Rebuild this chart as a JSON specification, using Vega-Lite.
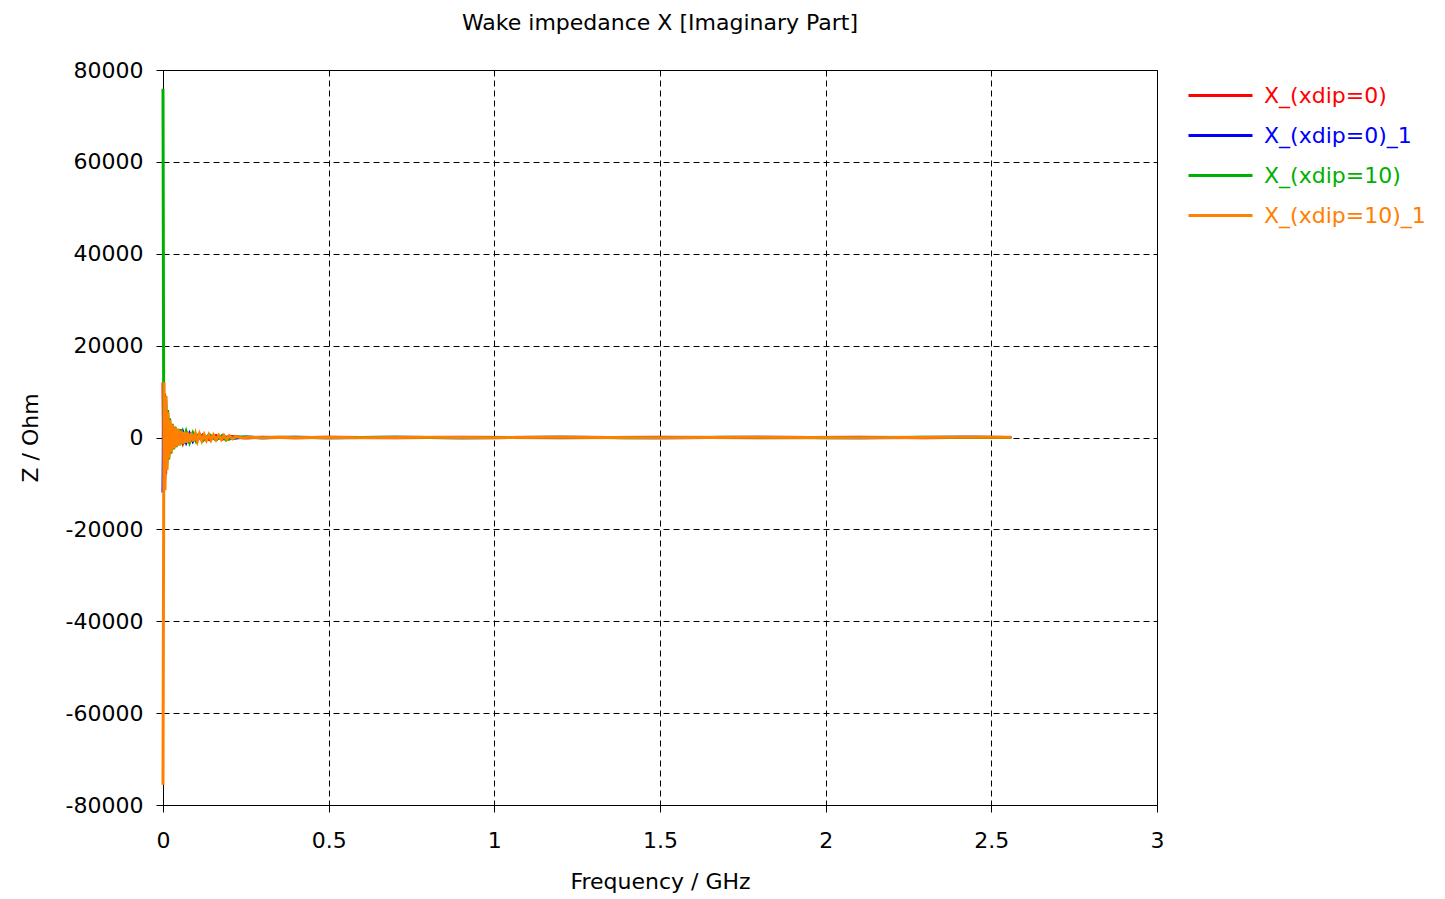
{
  "$schema": "https://vega.github.io/schema/vega-lite/v6.json",
  "width": 994,
  "height": 735,
  "autosize": {"type": "none"},
  "padding": {"left": 163, "top": 70, "right": 288, "bottom": 94},
  "background": "white",
  "title": {"text": "Wake impedance X [Imaginary Part]", "font": "DejaVu Sans", "fontSize": 22, "fontWeight": "normal", "color": "black", "offset": 24, "anchor": "middle"},
  "config": {
    "view": {"stroke": "black", "strokeWidth": 1},
    "font": "DejaVu Sans",
    "axis": {
      "labelFont": "DejaVu Sans", "labelFontSize": 22, "labelColor": "black",
      "titleFont": "DejaVu Sans", "titleFontSize": 22, "titleColor": "black", "titleFontWeight": "normal",
      "domainColor": "black", "domainWidth": 1, "tickColor": "black", "tickSize": 7, "tickWidth": 1,
      "grid": true, "gridColor": "black", "gridDash": [6, 4], "gridWidth": 1, "gridOpacity": 1, "labelFlush": false
    }
  },
  "data": {"values": [
    {"f":0,"z":12000,"s":"X_(xdip=0)"},{"f":0.002,"z":-9000,"s":"X_(xdip=0)"},{"f":0.005,"z":9500,"s":"X_(xdip=0)"},{"f":0.008,"z":-8000,"s":"X_(xdip=0)"},{"f":0.011,"z":6000,"s":"X_(xdip=0)"},{"f":0.014,"z":-4800,"s":"X_(xdip=0)"},{"f":0.017,"z":4000,"s":"X_(xdip=0)"},{"f":0.02,"z":-3300,"s":"X_(xdip=0)"},{"f":0.024,"z":2800,"s":"X_(xdip=0)"},{"f":0.028,"z":-2400,"s":"X_(xdip=0)"},{"f":0.032,"z":2100,"s":"X_(xdip=0)"},{"f":0.036,"z":-1900,"s":"X_(xdip=0)"},{"f":0.04,"z":1750,"s":"X_(xdip=0)"},{"f":0.045,"z":-1550,"s":"X_(xdip=0)"},{"f":0.05,"z":1400,"s":"X_(xdip=0)"},{"f":0.06,"z":-1150,"s":"X_(xdip=0)"},{"f":0.07,"z":1000,"s":"X_(xdip=0)"},{"f":0.08,"z":-850,"s":"X_(xdip=0)"},{"f":0.09,"z":750,"s":"X_(xdip=0)"},{"f":0.1,"z":-650,"s":"X_(xdip=0)"},{"f":0.12,"z":560,"s":"X_(xdip=0)"},{"f":0.14,"z":-480,"s":"X_(xdip=0)"},{"f":0.16,"z":420,"s":"X_(xdip=0)"},{"f":0.18,"z":-360,"s":"X_(xdip=0)"},{"f":0.2,"z":260,"s":"X_(xdip=0)"},{"f":0.25,"z":-100,"s":"X_(xdip=0)"},{"f":0.3,"z":80,"s":"X_(xdip=0)"},{"f":0.4,"z":-50,"s":"X_(xdip=0)"},{"f":0.5,"z":50,"s":"X_(xdip=0)"},{"f":0.7,"z":-50,"s":"X_(xdip=0)"},{"f":0.9,"z":50,"s":"X_(xdip=0)"},{"f":1.2,"z":-50,"s":"X_(xdip=0)"},{"f":1.5,"z":50,"s":"X_(xdip=0)"},{"f":1.8,"z":-50,"s":"X_(xdip=0)"},{"f":2.1,"z":50,"s":"X_(xdip=0)"},{"f":2.3,"z":-50,"s":"X_(xdip=0)"},{"f":2.45,"z":50,"s":"X_(xdip=0)"},{"f":2.56,"z":0,"s":"X_(xdip=0)"},
    {"f":0,"z":-12000,"s":"X_(xdip=0)_1"},{"f":0.002,"z":8000,"s":"X_(xdip=0)_1"},{"f":0.005,"z":-9500,"s":"X_(xdip=0)_1"},{"f":0.008,"z":8000,"s":"X_(xdip=0)_1"},{"f":0.011,"z":-6000,"s":"X_(xdip=0)_1"},{"f":0.014,"z":4800,"s":"X_(xdip=0)_1"},{"f":0.017,"z":-4000,"s":"X_(xdip=0)_1"},{"f":0.02,"z":3300,"s":"X_(xdip=0)_1"},{"f":0.024,"z":-2800,"s":"X_(xdip=0)_1"},{"f":0.028,"z":2400,"s":"X_(xdip=0)_1"},{"f":0.032,"z":-2100,"s":"X_(xdip=0)_1"},{"f":0.036,"z":1900,"s":"X_(xdip=0)_1"},{"f":0.04,"z":-1750,"s":"X_(xdip=0)_1"},{"f":0.045,"z":1550,"s":"X_(xdip=0)_1"},{"f":0.05,"z":-1400,"s":"X_(xdip=0)_1"},{"f":0.06,"z":1150,"s":"X_(xdip=0)_1"},{"f":0.07,"z":-1000,"s":"X_(xdip=0)_1"},{"f":0.08,"z":850,"s":"X_(xdip=0)_1"},{"f":0.09,"z":-750,"s":"X_(xdip=0)_1"},{"f":0.1,"z":650,"s":"X_(xdip=0)_1"},{"f":0.12,"z":-560,"s":"X_(xdip=0)_1"},{"f":0.14,"z":480,"s":"X_(xdip=0)_1"},{"f":0.16,"z":-420,"s":"X_(xdip=0)_1"},{"f":0.18,"z":360,"s":"X_(xdip=0)_1"},{"f":0.2,"z":-260,"s":"X_(xdip=0)_1"},{"f":0.25,"z":100,"s":"X_(xdip=0)_1"},{"f":0.3,"z":-80,"s":"X_(xdip=0)_1"},{"f":0.4,"z":50,"s":"X_(xdip=0)_1"},{"f":0.5,"z":-50,"s":"X_(xdip=0)_1"},{"f":0.7,"z":50,"s":"X_(xdip=0)_1"},{"f":0.9,"z":-50,"s":"X_(xdip=0)_1"},{"f":1.2,"z":50,"s":"X_(xdip=0)_1"},{"f":1.5,"z":-50,"s":"X_(xdip=0)_1"},{"f":1.8,"z":50,"s":"X_(xdip=0)_1"},{"f":2.1,"z":-50,"s":"X_(xdip=0)_1"},{"f":2.4,"z":50,"s":"X_(xdip=0)_1"},{"f":2.56,"z":0,"s":"X_(xdip=0)_1"},
    {"f":0,"z":75900,"s":"X_(xdip=10)"},{"f":0.002,"z":9000,"s":"X_(xdip=10)"},{"f":0.005,"z":-8500,"s":"X_(xdip=10)"},{"f":0.008,"z":9000,"s":"X_(xdip=10)"},{"f":0.011,"z":-7000,"s":"X_(xdip=10)"},{"f":0.014,"z":6000,"s":"X_(xdip=10)"},{"f":0.017,"z":-4800,"s":"X_(xdip=10)"},{"f":0.02,"z":4200,"s":"X_(xdip=10)"},{"f":0.024,"z":-3500,"s":"X_(xdip=10)"},{"f":0.028,"z":3000,"s":"X_(xdip=10)"},{"f":0.032,"z":-2600,"s":"X_(xdip=10)"},{"f":0.036,"z":2400,"s":"X_(xdip=10)"},{"f":0.04,"z":-2100,"s":"X_(xdip=10)"},{"f":0.045,"z":1900,"s":"X_(xdip=10)"},{"f":0.05,"z":-1700,"s":"X_(xdip=10)"},{"f":0.055,"z":1800,"s":"X_(xdip=10)"},{"f":0.06,"z":-1450,"s":"X_(xdip=10)"},{"f":0.07,"z":1250,"s":"X_(xdip=10)"},{"f":0.08,"z":-1050,"s":"X_(xdip=10)"},{"f":0.09,"z":950,"s":"X_(xdip=10)"},{"f":0.1,"z":-800,"s":"X_(xdip=10)"},{"f":0.11,"z":700,"s":"X_(xdip=10)"},{"f":0.12,"z":-700,"s":"X_(xdip=10)"},{"f":0.14,"z":600,"s":"X_(xdip=10)"},{"f":0.16,"z":-520,"s":"X_(xdip=10)"},{"f":0.18,"z":480,"s":"X_(xdip=10)"},{"f":0.19,"z":-560,"s":"X_(xdip=10)"},{"f":0.22,"z":150,"s":"X_(xdip=10)"},{"f":0.3,"z":-60,"s":"X_(xdip=10)"},{"f":0.35,"z":60,"s":"X_(xdip=10)"},{"f":0.5,"z":-50,"s":"X_(xdip=10)"},{"f":0.7,"z":60,"s":"X_(xdip=10)"},{"f":0.9,"z":-50,"s":"X_(xdip=10)"},{"f":1.2,"z":60,"s":"X_(xdip=10)"},{"f":1.4,"z":-50,"s":"X_(xdip=10)"},{"f":1.7,"z":60,"s":"X_(xdip=10)"},{"f":2.0,"z":-50,"s":"X_(xdip=10)"},{"f":2.3,"z":60,"s":"X_(xdip=10)"},{"f":2.56,"z":0,"s":"X_(xdip=10)"},
    {"f":0,"z":-75600,"s":"X_(xdip=10)_1"},{"f":0.003,"z":12000,"s":"X_(xdip=10)_1"},{"f":0.006,"z":-11500,"s":"X_(xdip=10)_1"},{"f":0.009,"z":9000,"s":"X_(xdip=10)_1"},{"f":0.012,"z":-7000,"s":"X_(xdip=10)_1"},{"f":0.015,"z":5500,"s":"X_(xdip=10)_1"},{"f":0.018,"z":-4500,"s":"X_(xdip=10)_1"},{"f":0.021,"z":3800,"s":"X_(xdip=10)_1"},{"f":0.025,"z":-3200,"s":"X_(xdip=10)_1"},{"f":0.029,"z":2800,"s":"X_(xdip=10)_1"},{"f":0.033,"z":-2400,"s":"X_(xdip=10)_1"},{"f":0.037,"z":2200,"s":"X_(xdip=10)_1"},{"f":0.041,"z":-1950,"s":"X_(xdip=10)_1"},{"f":0.045,"z":1800,"s":"X_(xdip=10)_1"},{"f":0.05,"z":-1600,"s":"X_(xdip=10)_1"},{"f":0.055,"z":1450,"s":"X_(xdip=10)_1"},{"f":0.06,"z":-1330,"s":"X_(xdip=10)_1"},{"f":0.065,"z":1230,"s":"X_(xdip=10)_1"},{"f":0.07,"z":-1140,"s":"X_(xdip=10)_1"},{"f":0.075,"z":1070,"s":"X_(xdip=10)_1"},{"f":0.08,"z":-1000,"s":"X_(xdip=10)_1"},{"f":0.086,"z":930,"s":"X_(xdip=10)_1"},{"f":0.092,"z":-870,"s":"X_(xdip=10)_1"},{"f":0.098,"z":820,"s":"X_(xdip=10)_1"},{"f":0.104,"z":-770,"s":"X_(xdip=10)_1"},{"f":0.11,"z":730,"s":"X_(xdip=10)_1"},{"f":0.117,"z":-680,"s":"X_(xdip=10)_1"},{"f":0.124,"z":650,"s":"X_(xdip=10)_1"},{"f":0.131,"z":-610,"s":"X_(xdip=10)_1"},{"f":0.138,"z":580,"s":"X_(xdip=10)_1"},{"f":0.145,"z":-550,"s":"X_(xdip=10)_1"},{"f":0.152,"z":530,"s":"X_(xdip=10)_1"},{"f":0.16,"z":-500,"s":"X_(xdip=10)_1"},{"f":0.168,"z":480,"s":"X_(xdip=10)_1"},{"f":0.176,"z":-450,"s":"X_(xdip=10)_1"},{"f":0.184,"z":430,"s":"X_(xdip=10)_1"},{"f":0.192,"z":-410,"s":"X_(xdip=10)_1"},{"f":0.2,"z":390,"s":"X_(xdip=10)_1"},{"f":0.21,"z":-300,"s":"X_(xdip=10)_1"},{"f":0.22,"z":200,"s":"X_(xdip=10)_1"},{"f":0.24,"z":-120,"s":"X_(xdip=10)_1"},{"f":0.26,"z":80,"s":"X_(xdip=10)_1"},{"f":0.3,"z":-50,"s":"X_(xdip=10)_1"},{"f":0.35,"z":50,"s":"X_(xdip=10)_1"},{"f":0.4,"z":-40,"s":"X_(xdip=10)_1"},{"f":0.5,"z":40,"s":"X_(xdip=10)_1"},{"f":0.6,"z":-40,"s":"X_(xdip=10)_1"},{"f":0.8,"z":40,"s":"X_(xdip=10)_1"},{"f":1.0,"z":-40,"s":"X_(xdip=10)_1"},{"f":1.2,"z":40,"s":"X_(xdip=10)_1"},{"f":1.5,"z":-40,"s":"X_(xdip=10)_1"},{"f":1.8,"z":40,"s":"X_(xdip=10)_1"},{"f":2.1,"z":-40,"s":"X_(xdip=10)_1"},{"f":2.4,"z":40,"s":"X_(xdip=10)_1"},{"f":2.56,"z":30,"s":"X_(xdip=10)_1"}
  ]},
  "mark": {"type": "line", "clip": false, "strokeCap": "butt", "strokeJoin": "miter"},
  "encoding": {
    "x": {"field": "f", "type": "quantitative", "scale": {"domain": [0, 3], "nice": false, "zero": false},
      "axis": {"title": "Frequency / GHz", "values": [0, 0.5, 1, 1.5, 2, 2.5, 3], "labelExpr": "toString(datum.value)", "labelPadding": 18, "titleY": 76, "titleBaseline": "middle"}},
    "y": {"field": "z", "type": "quantitative", "scale": {"domain": [-80000, 80000], "nice": false, "zero": false},
      "axis": {"title": "Z / Ohm", "values": [-80000, -60000, -40000, -20000, 0, 20000, 40000, 60000, 80000], "labelExpr": "toString(datum.value)", "labelPadding": 13, "titleX": -133, "titleY": 367.5, "titleAngle": -90, "titleAlign": "center", "titleBaseline": "middle"}},
    "color": {"field": "s", "type": "nominal",
      "scale": {"domain": ["X_(xdip=0)", "X_(xdip=0)_1", "X_(xdip=10)", "X_(xdip=10)_1"], "range": ["#ff0000", "#0000ff", "#00b000", "#ff8000"]},
      "legend": {"title": null, "orient": "none", "legendX": 1040, "legendY": 8, "symbolType": "M-2,0H2", "symbolSize": 1024, "symbolStrokeWidth": 3, "symbolFillColor": "transparent", "labelFont": "DejaVu Sans", "labelFontSize": 22, "labelOffset": 26, "labelLimit": 400, "rowPadding": 11,
        "encode": {"labels": {"update": {"fill": {"scale": "color", "field": "value"}}}}}},
    "strokeWidth": {"field": "s", "type": "ordinal", "scale": {"domain": ["X_(xdip=0)", "X_(xdip=0)_1", "X_(xdip=10)", "X_(xdip=10)_1"], "range": [3, 3, 3, 4.5]}, "legend": null}
  }
}
